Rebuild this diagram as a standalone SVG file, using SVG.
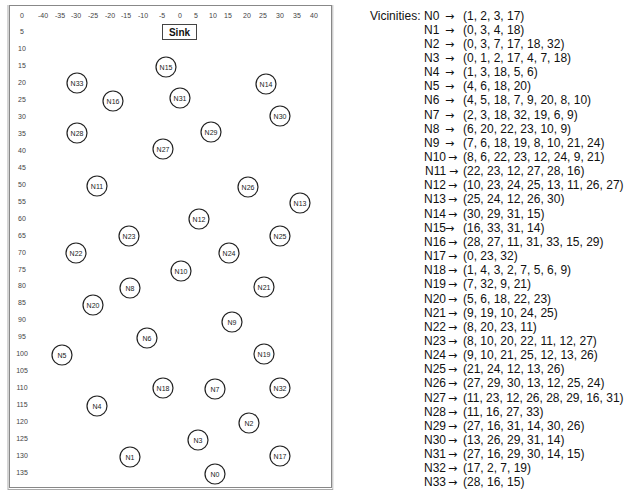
<svg xmlns="http://www.w3.org/2000/svg" width="632" height="494" viewBox="0 0 632 494">
<style>
.ax{font-family:"Liberation Sans",Arial,sans-serif;font-size:7px;fill:#444;text-anchor:middle}
.nd circle{fill:#fff;stroke:#222;stroke-width:1.2}
.nd text{font-family:"Liberation Sans",Arial,sans-serif;font-size:7px;fill:#222;text-anchor:middle}
.vt{font-family:"Liberation Sans",Arial,sans-serif;font-size:12px;fill:#111}
.ar{font-family:"DejaVu Sans",sans-serif;font-size:11px;fill:#111}
</style>
<rect width="632" height="494" fill="#fff"/>
<g id="frame">
<rect x="9.5" y="5.5" width="322" height="482" fill="#fff" stroke="#888" stroke-width="1"/>
<line x1="8" y1="5" x2="8" y2="490" stroke="#aaa" stroke-width="1"/>
<line x1="8" y1="489.5" x2="333" y2="489.5" stroke="#aaa" stroke-width="1"/>
<line x1="332.8" y1="5" x2="332.8" y2="490" stroke="#aaa" stroke-width="0.8"/>
</g>
<g id="axis-x">
<text class="ax" x="43" y="17.5">-40</text>
<text class="ax" x="60" y="17.5">-35</text>
<text class="ax" x="76" y="17.5">-30</text>
<text class="ax" x="93" y="17.5">-25</text>
<text class="ax" x="110" y="17.5">-20</text>
<text class="ax" x="126" y="17.5">-15</text>
<text class="ax" x="143" y="17.5">-10</text>
<text class="ax" x="162" y="17.5">-5</text>
<text class="ax" x="180" y="17.5">0</text>
<text class="ax" x="196" y="17.5">5</text>
<text class="ax" x="213" y="17.5">10</text>
<text class="ax" x="228" y="17.5">15</text>
<text class="ax" x="247" y="17.5">20</text>
<text class="ax" x="263" y="17.5">25</text>
<text class="ax" x="280" y="17.5">30</text>
<text class="ax" x="297" y="17.5">35</text>
<text class="ax" x="314" y="17.5">40</text>
</g>
<g id="axis-y">
<text class="ax" x="22" y="17.5">0</text>
<text class="ax" x="22" y="34.4">5</text>
<text class="ax" x="22" y="51.4">10</text>
<text class="ax" x="22" y="68.3">15</text>
<text class="ax" x="22" y="85.2">20</text>
<text class="ax" x="22" y="102.2">25</text>
<text class="ax" x="22" y="119.1">30</text>
<text class="ax" x="22" y="136">35</text>
<text class="ax" x="22" y="152.9">40</text>
<text class="ax" x="22" y="169.9">45</text>
<text class="ax" x="22" y="186.8">50</text>
<text class="ax" x="22" y="203.7">55</text>
<text class="ax" x="22" y="220.7">60</text>
<text class="ax" x="22" y="237.6">65</text>
<text class="ax" x="22" y="254.5">70</text>
<text class="ax" x="22" y="271.5">75</text>
<text class="ax" x="22" y="288.4">80</text>
<text class="ax" x="22" y="305.3">85</text>
<text class="ax" x="22" y="322.2">90</text>
<text class="ax" x="22" y="339.2">95</text>
<text class="ax" x="22" y="356.1">100</text>
<text class="ax" x="22" y="373">105</text>
<text class="ax" x="22" y="390">110</text>
<text class="ax" x="22" y="406.9">115</text>
<text class="ax" x="22" y="423.8">120</text>
<text class="ax" x="22" y="440.8">125</text>
<text class="ax" x="22" y="457.7">130</text>
<text class="ax" x="22" y="474.6">135</text>
</g>
<g id="sink">
<rect x="162.5" y="24.5" width="34" height="15" fill="#fff" stroke="#444" stroke-width="1"/>
<text x="179.5" y="35.5" font-family="Liberation Sans,Arial,sans-serif" font-size="10" font-weight="bold" text-anchor="middle" fill="#111">Sink</text>
</g>
<g id="connectors"></g>
<g id="N15" class="nd"><circle cx="166" cy="67" r="10"/><text x="166" y="69.5">N15</text></g>
<g id="N33" class="nd"><circle cx="77" cy="83" r="10"/><text x="77" y="85.5">N33</text></g>
<g id="N16" class="nd"><circle cx="113" cy="101" r="10"/><text x="113" y="103.5">N16</text></g>
<g id="N31" class="nd"><circle cx="180" cy="98" r="10"/><text x="180" y="100.5">N31</text></g>
<g id="N14" class="nd"><circle cx="266" cy="84" r="10"/><text x="266" y="86.5">N14</text></g>
<g id="N30" class="nd"><circle cx="280" cy="116" r="10"/><text x="280" y="118.5">N30</text></g>
<g id="N28" class="nd"><circle cx="77" cy="133" r="10"/><text x="77" y="135.5">N28</text></g>
<g id="N29" class="nd"><circle cx="211" cy="132" r="10"/><text x="211" y="134.5">N29</text></g>
<g id="N27" class="nd"><circle cx="163" cy="149" r="10"/><text x="163" y="151.5">N27</text></g>
<g id="N11" class="nd"><circle cx="97" cy="186" r="10"/><text x="97" y="188.5">N11</text></g>
<g id="N26" class="nd"><circle cx="248" cy="187" r="10"/><text x="248" y="189.5">N26</text></g>
<g id="N13" class="nd"><circle cx="300" cy="203" r="10"/><text x="300" y="205.5">N13</text></g>
<g id="N12" class="nd"><circle cx="199" cy="219" r="10"/><text x="199" y="221.5">N12</text></g>
<g id="N23" class="nd"><circle cx="129" cy="236" r="10"/><text x="129" y="238.5">N23</text></g>
<g id="N25" class="nd"><circle cx="280" cy="236" r="10"/><text x="280" y="238.5">N25</text></g>
<g id="N22" class="nd"><circle cx="76" cy="253" r="10"/><text x="76" y="255.5">N22</text></g>
<g id="N24" class="nd"><circle cx="229" cy="253" r="10"/><text x="229" y="255.5">N24</text></g>
<g id="N10" class="nd"><circle cx="181" cy="271" r="10"/><text x="181" y="273.5">N10</text></g>
<g id="N8" class="nd"><circle cx="130" cy="288" r="10"/><text x="130" y="290.5">N8</text></g>
<g id="N21" class="nd"><circle cx="264" cy="287" r="10"/><text x="264" y="289.5">N21</text></g>
<g id="N20" class="nd"><circle cx="93" cy="305" r="10"/><text x="93" y="307.5">N20</text></g>
<g id="N9" class="nd"><circle cx="232" cy="322" r="10"/><text x="232" y="324.5">N9</text></g>
<g id="N6" class="nd"><circle cx="147" cy="338" r="10"/><text x="147" y="340.5">N6</text></g>
<g id="N5" class="nd"><circle cx="62" cy="355" r="10"/><text x="62" y="357.5">N5</text></g>
<g id="N19" class="nd"><circle cx="264" cy="354" r="10"/><text x="264" y="356.5">N19</text></g>
<g id="N18" class="nd"><circle cx="163" cy="388" r="10"/><text x="163" y="390.5">N18</text></g>
<g id="N7" class="nd"><circle cx="215" cy="389" r="10"/><text x="215" y="391.5">N7</text></g>
<g id="N32" class="nd"><circle cx="280" cy="388" r="10"/><text x="280" y="390.5">N32</text></g>
<g id="N4" class="nd"><circle cx="97" cy="406" r="10"/><text x="97" y="408.5">N4</text></g>
<g id="N2" class="nd"><circle cx="249" cy="423" r="10"/><text x="249" y="425.5">N2</text></g>
<g id="N3" class="nd"><circle cx="198" cy="440" r="10"/><text x="198" y="442.5">N3</text></g>
<g id="N1" class="nd"><circle cx="130" cy="457" r="10"/><text x="130" y="459.5">N1</text></g>
<g id="N17" class="nd"><circle cx="280" cy="456" r="10"/><text x="280" y="458.5">N17</text></g>
<g id="N0" class="nd"><circle cx="215" cy="474" r="10"/><text x="215" y="476.5">N0</text></g>
<g id="vicinities" class="vt">
<text x="370" y="19.5">Vicinities:</text>
<text x="424" y="19.5">N0</text><text class="ar" x="445" y="19.5">→</text><text x="463" y="19.5">(1, 2, 3, 17)</text>
<text x="424" y="33.6">N1</text><text class="ar" x="445" y="33.6">→</text><text x="463" y="33.6">(0, 3, 4, 18)</text>
<text x="424" y="47.8">N2</text><text class="ar" x="445" y="47.8">→</text><text x="463" y="47.8">(0, 3, 7, 17, 18, 32)</text>
<text x="424" y="61.9">N3</text><text class="ar" x="445" y="61.9">→</text><text x="463" y="61.9">(0, 1, 2, 17, 4, 7, 18)</text>
<text x="424" y="76.1">N4</text><text class="ar" x="445" y="76.1">→</text><text x="463" y="76.1">(1, 3, 18, 5, 6)</text>
<text x="424" y="90.2">N5</text><text class="ar" x="445" y="90.2">→</text><text x="463" y="90.2">(4, 6, 18, 20)</text>
<text x="424" y="104.4">N6</text><text class="ar" x="445" y="104.4">→</text><text x="463" y="104.4">(4, 5, 18, 7, 9, 20, 8, 10)</text>
<text x="424" y="118.5">N7</text><text class="ar" x="445" y="118.5">→</text><text x="463" y="118.5">(2, 3, 18, 32, 19, 6, 9)</text>
<text x="424" y="132.7">N8</text><text class="ar" x="445" y="132.7">→</text><text x="463" y="132.7">(6, 20, 22, 23, 10, 9)</text>
<text x="424" y="146.8">N9</text><text class="ar" x="445" y="146.8">→</text><text x="463" y="146.8">(7, 6, 18, 19, 8, 10, 21, 24)</text>
<text x="424" y="161">N10</text><text class="ar" x="448" y="161">→</text><text x="463" y="161">(8, 6, 22, 23, 12, 24, 9, 21)</text>
<text x="425" y="175.1">N11</text><text class="ar" x="449" y="175.1">→</text><text x="463" y="175.1">(22, 23, 12, 27, 28, 16)</text>
<text x="424" y="189.3">N12</text><text class="ar" x="448" y="189.3">→</text><text x="463" y="189.3">(10, 23, 24, 25, 13, 11, 26, 27)</text>
<text x="424" y="203.4">N13</text><text class="ar" x="448" y="203.4">→</text><text x="463" y="203.4">(25, 24, 12, 26, 30)</text>
<text x="424" y="217.6">N14</text><text class="ar" x="448" y="217.6">→</text><text x="463" y="217.6">(30, 29, 31, 15)</text>
<text x="424" y="231.7">N15</text><text class="ar" x="445" y="231.7">→</text><text x="463" y="231.7">(16, 33, 31, 14)</text>
<text x="424" y="245.9">N16</text><text class="ar" x="448" y="245.9">→</text><text x="463" y="245.9">(28, 27, 11, 31, 33, 15, 29)</text>
<text x="424" y="260">N17</text><text class="ar" x="448" y="260">→</text><text x="463" y="260">(0, 23, 32)</text>
<text x="424" y="274.2">N18</text><text class="ar" x="448" y="274.2">→</text><text x="463" y="274.2">(1, 4, 3, 2, 7, 5, 6, 9)</text>
<text x="424" y="288.3">N19</text><text class="ar" x="448" y="288.3">→</text><text x="463" y="288.3">(7, 32, 9, 21)</text>
<text x="424" y="302.5">N20</text><text class="ar" x="448" y="302.5">→</text><text x="463" y="302.5">(5, 6, 18, 22, 23)</text>
<text x="424" y="316.6">N21</text><text class="ar" x="448" y="316.6">→</text><text x="463" y="316.6">(9, 19, 10, 24, 25)</text>
<text x="424" y="330.8">N22</text><text class="ar" x="448" y="330.8">→</text><text x="463" y="330.8">(8, 20, 23, 11)</text>
<text x="424" y="344.9">N23</text><text class="ar" x="448" y="344.9">→</text><text x="463" y="344.9">(8, 10, 20, 22, 11, 12, 27)</text>
<text x="424" y="359.1">N24</text><text class="ar" x="448" y="359.1">→</text><text x="463" y="359.1">(9, 10, 21, 25, 12, 13, 26)</text>
<text x="424" y="373.2">N25</text><text class="ar" x="448" y="373.2">→</text><text x="463" y="373.2">(21, 24, 12, 13, 26)</text>
<text x="424" y="387.4">N26</text><text class="ar" x="448" y="387.4">→</text><text x="463" y="387.4">(27, 29, 30, 13, 12, 25, 24)</text>
<text x="424" y="401.5">N27</text><text class="ar" x="448" y="401.5">→</text><text x="463" y="401.5">(11, 23, 12, 26, 28, 29, 16, 31)</text>
<text x="424" y="415.7">N28</text><text class="ar" x="448" y="415.7">→</text><text x="463" y="415.7">(11, 16, 27, 33)</text>
<text x="424" y="429.8">N29</text><text class="ar" x="448" y="429.8">→</text><text x="463" y="429.8">(27, 16, 31, 14, 30, 26)</text>
<text x="424" y="444">N30</text><text class="ar" x="448" y="444">→</text><text x="463" y="444">(13, 26, 29, 31, 14)</text>
<text x="424" y="458.1">N31</text><text class="ar" x="448" y="458.1">→</text><text x="463" y="458.1">(27, 16, 29, 30, 14, 15)</text>
<text x="424" y="472.3">N32</text><text class="ar" x="448" y="472.3">→</text><text x="463" y="472.3">(17, 2, 7, 19)</text>
<text x="424" y="486.4">N33</text><text class="ar" x="448" y="486.4">→</text><text x="463" y="486.4">(28, 16, 15)</text>
</g>
</svg>
